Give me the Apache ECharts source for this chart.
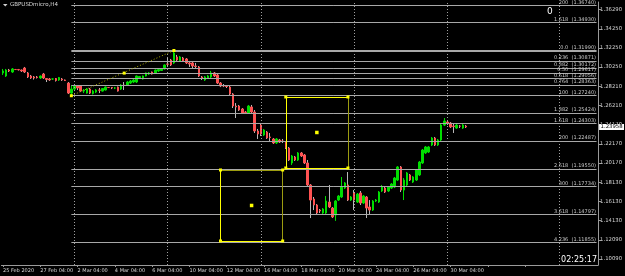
<!DOCTYPE html>
<html><head><meta charset="utf-8">
<script src="https://cdn.jsdelivr.net/npm/echarts@6/dist/echarts.min.js"></script>
<style>html,body{margin:0;padding:0;background:#000;}#c{width:625px;height:276px;}</style>
</head><body><div id="c"></div>
<script>
const symbolTitle = 'GBPUSDmicro,H4';
const clockText = '02:25:17';
const cornerText = '0';
const tickLabels = ['25 Feb 2020','27 Feb 04:00','2 Mar 04:00','4 Mar 04:00','6 Mar 04:00','10 Mar 04:00','12 Mar 04:00','16 Mar 04:00','18 Mar 04:00','20 Mar 04:00','24 Mar 04:00','26 Mar 04:00','30 Mar 04:00'];
const yTicks = [1.36290,1.34250,1.32250,1.30250,1.28210,1.26210,1.24170,1.22170,1.20170,1.18130,1.16130,1.14130,1.12090,1.10090];

const opens = [
1.2963,1.2931,1.2994,1.2973,1.2999,1.2999,1.2994,1.3015,1.2963,1.2931,
1.2921,1.2921,1.2910,1.2952,1.2905,1.2900,1.2900,1.2905,1.2889,1.2900,
1.2889,1.2857,1.2752,1.2794,1.2826,1.2826,1.2773,1.2752,1.2794,1.2747,
1.2763,1.2784,1.2773,1.2784,1.2810,1.2810,1.2805,1.2815,1.2794,1.2836,
1.2836,1.2857,1.2868,1.2868,1.2910,1.2900,1.2931,1.2952,1.2973,1.2963,
1.2984,1.2989,1.3005,1.3057,1.3099,1.3068,1.3131,1.3089,1.3120,1.3110,
1.3068,1.3068,1.3036,1.3026,1.2921,1.2889,1.2910,1.2921,1.2963,1.2942,
1.2857,1.2831,1.2826,1.2815,1.2742,1.2616,1.2616,1.2585,1.2553,1.2543,
1.2606,1.2553,1.2354,1.2416,1.2312,1.2343,1.2291,1.2270,1.2228,1.2259,
1.2249,1.2238,1.2175,1.2018,1.2081,1.2049,1.2123,1.2102,1.2018,1.1787,
1.1640,1.1577,1.1524,1.1493,1.1493,1.1608,1.1545,1.1472,1.1629,1.1661,
1.1755,1.1787,1.1629,1.1703,1.1608,1.1703,1.1598,1.1661,1.1556,1.1524,
1.1619,1.1608,1.1724,1.1755,1.1724,1.1755,1.1766,1.1839,1.1976,1.1734,
1.1787,1.1892,1.1818,1.1839,1.1892,1.2018,1.2123,1.2133,1.2207,1.2280,
1.2207,1.2259,1.2416,1.2448,1.2437,1.2406,1.2385,1.2406,1.2385,1.2406];
const closes = [
1.2984,1.2994,1.2984,1.3005,1.2999,1.2996,1.2984,1.2973,1.2921,1.2910,
1.2910,1.2915,1.2931,1.2910,1.2894,1.2889,1.2900,1.2884,1.2915,1.2889,
1.2884,1.2752,1.2794,1.2826,1.2805,1.2773,1.2784,1.2794,1.2752,1.2773,
1.2784,1.2782,1.2800,1.2815,1.2810,1.2805,1.2805,1.2773,1.2836,1.2831,
1.2868,1.2879,1.2889,1.2931,1.2926,1.2931,1.2963,1.2963,1.2952,1.2994,
1.2999,1.3010,1.3047,1.3055,1.3047,1.3173,1.3099,1.3131,1.3089,1.3068,
1.3057,1.3036,1.3031,1.2931,1.2910,1.2921,1.2931,1.2963,1.2931,1.2857,
1.2826,1.2826,1.2821,1.2742,1.2616,1.2606,1.2574,1.2543,1.2548,1.2616,
1.2553,1.2354,1.2322,1.2322,1.2364,1.2280,1.2285,1.2228,1.2270,1.2238,
1.2243,1.2175,1.2049,1.2091,1.2049,1.2123,1.2091,1.2018,1.1787,1.1629,
1.1577,1.1493,1.1514,1.1535,1.1619,1.1556,1.1451,1.1619,1.1671,1.1766,
1.1808,1.1629,1.1661,1.1629,1.1692,1.1598,1.1671,1.1545,1.1524,1.1619,
1.1629,1.1713,1.1766,1.1713,1.1766,1.1797,1.1860,1.1976,1.1734,1.1839,
1.1913,1.1839,1.1871,1.1944,1.2028,1.2154,1.2186,1.2186,1.2280,1.2207,
1.2259,1.2416,1.2459,1.2437,1.2396,1.2401,1.2416,1.2404,1.2416,1.23958];
const lows = [
1.2942,1.2921,1.2973,1.2963,1.2994,1.2989,1.2973,1.2963,1.2910,1.2900,
1.2894,1.2905,1.2900,1.2900,1.2868,1.2879,1.2889,1.2873,1.2879,1.2879,
1.2879,1.2742,1.2724,1.2773,1.2784,1.2763,1.2752,1.2747,1.2742,1.2737,
1.2752,1.2752,1.2768,1.2779,1.2805,1.2794,1.2794,1.2768,1.2784,1.2784,
1.2826,1.2847,1.2857,1.2857,1.2900,1.2894,1.2926,1.2942,1.2947,1.2957,
1.2973,1.2984,1.2999,1.3026,1.3036,1.3057,1.3089,1.3078,1.3078,1.3057,
1.3026,1.3015,1.3015,1.2921,1.2889,1.2879,1.2900,1.2910,1.2921,1.2847,
1.2815,1.2815,1.2805,1.2731,1.2595,1.2490,1.2564,1.2532,1.2532,1.2532,
1.2532,1.2333,1.2270,1.2301,1.2301,1.2270,1.2238,1.2217,1.2217,1.2228,
1.2228,1.2165,1.2039,1.1997,1.2039,1.2039,1.2081,1.2007,1.1776,1.1440,
1.1524,1.1472,1.1493,1.1482,1.1472,1.1545,1.1440,1.1410,1.1619,1.1650,
1.1745,1.1619,1.1619,1.1524,1.1598,1.1577,1.1587,1.1440,1.1472,1.1514,
1.1608,1.1598,1.1713,1.1703,1.1713,1.1745,1.1755,1.1829,1.1713,1.1629,
1.1776,1.1829,1.1808,1.1829,1.1881,1.2007,1.2112,1.2123,1.2196,1.2196,
1.2196,1.2249,1.2406,1.2416,1.2385,1.2333,1.2375,1.2385,1.2375,1.2385];
const highs = [
1.3005,1.3005,1.3005,1.3015,1.3005,1.3005,1.2999,1.3026,1.2973,1.2942,
1.2931,1.2931,1.2936,1.2963,1.2910,1.2910,1.2905,1.2910,1.2921,1.2910,
1.2894,1.2868,1.2836,1.2847,1.2836,1.2836,1.2794,1.2805,1.2805,1.2784,
1.2794,1.2805,1.2805,1.2821,1.2815,1.2815,1.2815,1.2821,1.2847,1.2868,
1.2879,1.2889,1.2900,1.2936,1.2931,1.2936,1.2968,1.2973,1.2978,1.2999,
1.3005,1.3015,1.3052,1.3131,1.3110,1.3199,1.3152,1.3141,1.3131,1.3120,
1.3089,1.3078,1.3068,1.3036,1.2931,1.2931,1.2942,1.2984,1.2973,1.2952,
1.2868,1.2847,1.2836,1.2826,1.2752,1.2647,1.2627,1.2595,1.2564,1.2627,
1.2627,1.2574,1.2375,1.2427,1.2375,1.2354,1.2333,1.2280,1.2280,1.2270,
1.2270,1.2249,1.2186,1.2102,1.2091,1.2133,1.2133,1.2112,1.2049,1.1797,
1.1661,1.1587,1.1535,1.1545,1.1671,1.1787,1.1556,1.1629,1.1682,1.1871,
1.1818,1.1923,1.1671,1.1734,1.1703,1.1724,1.1682,1.1671,1.1629,1.1629,
1.1640,1.1724,1.1787,1.1766,1.1776,1.1808,1.1871,1.1986,1.1986,1.1860,
1.1923,1.1902,1.1881,1.1955,1.2039,1.2165,1.2196,1.2196,1.2291,1.2291,
1.2270,1.2427,1.2490,1.2469,1.2448,1.2427,1.2427,1.2416,1.2427,1.2416];

// Fibonacci object
const fibLevels = ['200','1.618','0.0','0.236','0.382','0.50','0.618','0.764','100','1.382','1.618','200','2.618','300','3.618','4.236'];
const fibPrices = [1.36740,1.34930,1.31990,1.30871,1.30172,1.29617,1.29056,1.28363,1.27240,1.25424,1.24303,1.22487,1.19550,1.17734,1.14797,1.11855];
const fibAnchorTimes = ['28 Feb 20:00','9 Mar 08:00'];
const fibAnchorPrices = [1.27240,1.31990];
// rectangles [timeFrom, timeTo], [priceTop, priceBottom]
const rectTimes = [['11 Mar 20:00','17 Mar 04:00'],['17 Mar 08:00','20 Mar 16:00']];
const rectPrices = [[1.19445,1.11992],[1.27109,1.19655]];
const separatorTimes = ['2 Mar 00:00','9 Mar 00:00','16 Mar 00:00','23 Mar 00:00','30 Mar 00:00','7 Apr 00:00'];

// H4 time slots (trading days only), including empty future slots of chart shift
const MONTHS = ['Jan','Feb','Mar','Apr','May','Jun','Jul','Aug','Sep','Oct','Nov','Dec'];
const slotCount = 192;
const categories = [];
let t = Date.UTC(2020,1,25,4);
while (categories.length < slotCount) {
  const dt = new Date(t);
  const wd = dt.getUTCDay();
  if (wd !== 0 && wd !== 6) {
    const h = dt.getUTCHours();
    categories.push(dt.getUTCDate() + ' ' + MONTHS[dt.getUTCMonth()] + ' ' + (h < 10 ? '0' + h : h) + ':00');
  }
  t += 4 * 3600 * 1000;
}

const wickData = opens.map((o,i) => [o, closes[i], lows[i], highs[i]]);
const bodyData = opens.map((o,i) => [o, closes[i], Math.min(o, closes[i]), Math.max(o, closes[i])]);
const lastClose = closes[closes.length - 1];
const lastSlot = categories[categories.length - 1];

const GREEN = '#00dd00', RED = '#ff5252', GRAYW = '#b8b8b8';
const YEL = '#ffff00', OLIVE = '#9c9c10';
const fibLineColor = '#a8a8a8';

const markLines = [];
fibPrices.forEach((p, i) => {
  markLines.push([
    { coord: [fibAnchorTimes[0], p],
      lineStyle: { color: fibLineColor, width: fibLevels[i] === '0.0' ? 2 : 1, type: 'solid' },
      label: { show: true, position: 'insideEndTop', distance: 0.5, formatter: fibLevels[i] + '  (' + p.toFixed(5) + ')',
               color: '#c8c8c8', fontSize: 5, fontFamily: 'DejaVu Sans' } },
    { coord: [lastSlot, p] }
  ]);
});
separatorTimes.forEach(s => markLines.push({ xAxis: s, lineStyle: { color: '#a0a0a0', type: [1, 2], width: 1 }, label: { show: false } }));
markLines.push([
  { coord: [fibAnchorTimes[0], fibAnchorPrices[0]], lineStyle: { color: '#b0b000', type: [1, 2], width: 1 }, label: { show: false } },
  { coord: [fibAnchorTimes[1], fibAnchorPrices[1]] }
]);
const rectEdgeColors = [[OLIVE, OLIVE, YEL, YEL], [YEL, OLIVE, YEL, YEL]]; // top, right, bottom, left
rectTimes.forEach((rt, k) => {
  const [a, b] = rt, [top, bot] = rectPrices[k], c = rectEdgeColors[k];
  const seg = (p1, p2, col) => markLines.push([{ coord: p1, lineStyle: { color: col, width: 1, type: 'solid' }, label: { show: false } }, { coord: p2 }]);
  seg([a, top], [b, top], c[0]);
  seg([b, top], [b, bot], c[1]);
  seg([a, bot], [b, bot], c[2]);
  seg([a, top], [a, bot], c[3]);
});
markLines.push({ yAxis: lastClose, lineStyle: { color: 'rgba(0,0,0,0)', width: 0 },
  label: { show: true, position: 'end', distance: 1, formatter: lastClose.toFixed(5), color: '#000', backgroundColor: '#fff',
           padding: [1, 1.5, 0, 1.5], fontSize: 5.3, fontFamily: 'DejaVu Sans' } });

const anchors = [];
fibAnchorTimes.forEach((tm, i) => anchors.push({ coord: [tm, fibAnchorPrices[i]] }));
anchors.push({ coord: [categories.indexOf(fibAnchorTimes[0]) / 2 + categories.indexOf(fibAnchorTimes[1]) / 2, (fibAnchorPrices[0] + fibAnchorPrices[1]) / 2] });
rectTimes.forEach((rt, k) => {
  const [a, b] = rt, [top, bot] = rectPrices[k];
  anchors.push({ coord: [a, top] }, { coord: [b, top] }, { coord: [a, bot] }, { coord: [b, bot] });
  anchors.push({ coord: [(categories.indexOf(a) + categories.indexOf(b)) / 2, (top + bot) / 2], symbolSize: 3.5 });
});

const chart = echarts.init(document.getElementById('c'), null, { renderer: 'canvas' });
chart.setOption({
  backgroundColor: '#000',
  animation: false,
  grid: { left: 0, right: 25, top: 2, bottom: 11 },
  xAxis: {
    type: 'category', data: categories, boundaryGap: true,
    axisLine: { show: true, lineStyle: { color: '#9a9a9a', width: 1 } },
    axisTick: { show: true, alignWithLabel: true, interval: 11, length: 2, lineStyle: { color: '#9a9a9a' } },
    axisLabel: { interval: 11, align: 'left', margin: 3, fontSize: 5, color: '#d8d8d8', fontFamily: 'DejaVu Sans',
                 showMinLabel: true, showMaxLabel: false,
                 formatter: (v, idx) => (idx % 12 === 0 && tickLabels[idx / 12]) ? tickLabels[idx / 12] : '' },
    splitLine: { show: false }
  },
  yAxis: {
    type: 'value', position: 'right', min: 1.0947, max: 1.3708, scale: true,
    axisLine: { show: true, onZero: false, lineStyle: { color: '#9a9a9a', width: 1 } },
    axisTick: { show: true, length: 3, customValues: yTicks, lineStyle: { color: '#9a9a9a' } },
    axisLabel: { customValues: yTicks, margin: 2, fontSize: 5.3, color: '#d8d8d8', fontFamily: 'DejaVu Sans',
                 formatter: v => v.toFixed(5) },
    splitLine: { show: false }
  },
  series: [
    { name: 'wick', type: 'candlestick', data: wickData, barWidth: 1, z: 3,
      itemStyle: { color: GREEN, color0: GRAYW, borderColor: GREEN, borderColor0: GRAYW, borderWidth: 1 } },
    { name: 'body', type: 'candlestick', data: bodyData, barWidth: 2, z: 4,
      itemStyle: { color: GREEN, color0: RED, borderColor: GREEN, borderColor0: RED, borderWidth: 1 },
      markLine: { silent: true, symbol: ['none', 'none'], animation: false, precision: 5, data: markLines },
      markPoint: { silent: true, symbol: 'rect', symbolSize: 3, animation: false, itemStyle: { color: YEL }, label: { show: false }, data: anchors }
    }
  ],
  graphic: [
    { type: 'polygon', shape: { points: [[3, 4], [7.5, 4], [5.25, 6.5]] }, style: { fill: '#d0d0d0' } },
    { type: 'text', left: 10, top: 2, style: { text: symbolTitle, fill: '#d8d8d8', fontSize: 5.5, fontFamily: 'DejaVu Sans' } },
    { type: 'text', left: 547, top: 7, style: { text: cornerText, fill: '#ffffff', fontSize: 9, fontFamily: 'DejaVu Sans' } },
    { type: 'text', right: 28, top: 256, style: { text: clockText, fill: '#ffffff', fontSize: 8, fontFamily: 'DejaVu Sans' } }
  ]
});
</script></body></html>
